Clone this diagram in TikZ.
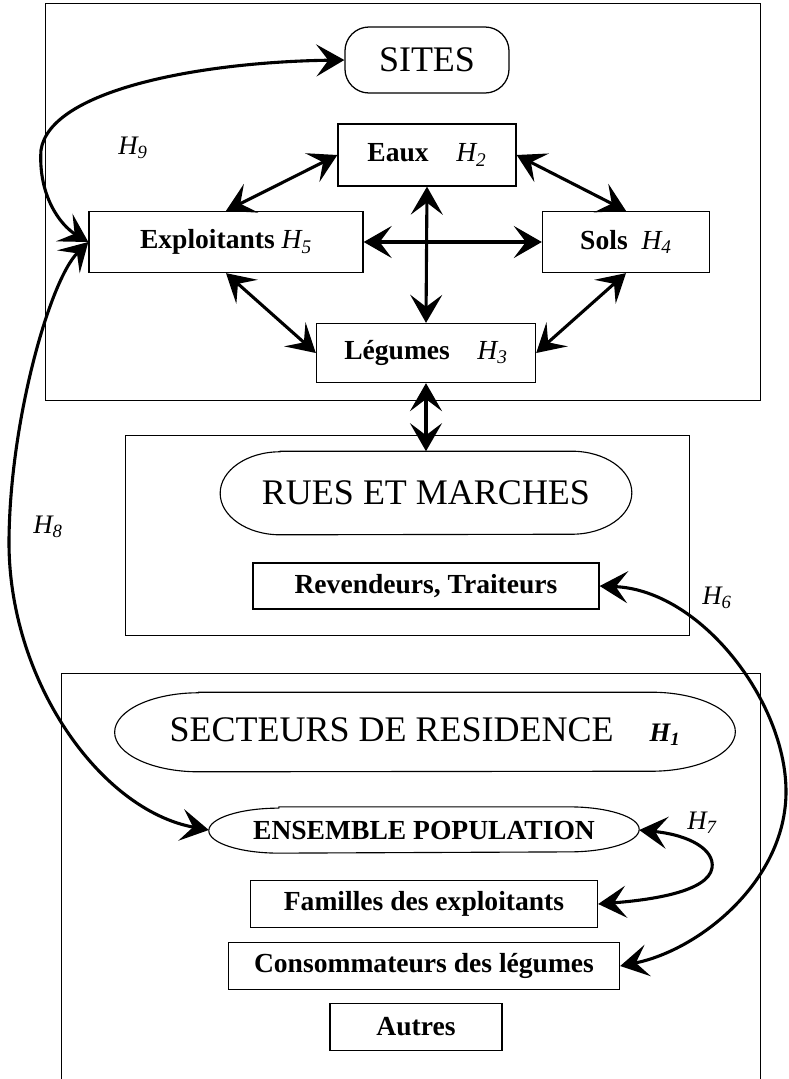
\documentclass[tikz,border=0pt]{standalone}
\usepackage{fontspec}
\setmainfont{Liberation Serif}
\usetikzlibrary{arrows.meta}

\newcommand{\hsub}[1]{{\normalfont\itshape H\textsubscript{#1}}}
% oval with elliptic ends drawn round a node
\newcommand{\capsule}[3]{%
  \draw[line width=0.8pt] ([xshift=#2]#1.north west) -- ([xshift=-#2]#1.north east)
    arc[start angle=90, end angle=-90, x radius=#2, y radius=#3]
    -- ([xshift=#2]#1.south west)
    arc[start angle=270, end angle=90, x radius=#2, y radius=#3] -- cycle;}

\begin{document}
\begin{tikzpicture}[x=0.025cm, y=-0.025cm,
    frame/.style={draw, line width=0.6pt},
    box/.style={draw, line width=0.9pt, inner sep=2pt, font=\fontsize{19.6}{23}\selectfont\bfseries},
    big/.style={inner sep=2pt, font=\fontsize{25.6}{30}\selectfont},
    hlab/.style={font=\fontsize{19}{22}\selectfont\itshape},
    dbl/.style={{Stealth[length=7mm, width=8mm, inset=3mm]}-{Stealth[length=7mm, width=8mm, inset=3mm]}, line width=2.2pt}
]
    \useasboundingbox (0,0) rectangle (789,1079);

    % frames
    \draw[frame] (45,3) rectangle (760,400);
    \draw[frame] (125,435) rectangle (689,635);
    \draw[frame] (61,1079) -- (61,673) -- (760,673) -- (760,1079);

    % sites
    \node[big, draw, line width=0.9pt, rounded corners=0.6cm, minimum width=4.1cm, minimum height=1.65cm] (sites) at (427,60) {SITES};
    \node[box, minimum width=4.45cm, minimum height=1.55cm] (eaux) at (427,155) {Eaux\quad\hsub{2}};
    \node[box, minimum width=6.85cm, minimum height=1.525cm] (expl) at (226,242) {Exploitants \hsub{5}};
    \node[box, minimum width=4.175cm, minimum height=1.525cm] (sols) at (626,242) {Sols\ \ \hsub{4}};
    \node[box, minimum width=5.475cm, minimum height=1.475cm] (leg) at (426,353) {Légumes\quad\hsub{3}};

    % rues et marches
    \node[big, minimum width=10.275cm, minimum height=2.075cm] (rues) at (426,493) {RUES ET MARCHES};
    \capsule{rues}{1.5cm}{1.0375cm}
    \node[box, minimum width=8.65cm, minimum height=1.15cm] (rev) at (426,586) {Revendeurs, Traiteurs};

    % secteurs de residence
    \node[big, minimum width=15.5cm, minimum height=1.975cm] (sect) at (425,732) {SECTEURS DE RESIDENCE\quad{\fontsize{19}{22}\selectfont\bfseries\itshape H\textsubscript{1}}};
    \capsule{sect}{2.1cm}{0.9875cm}
    \node[box, draw=none, minimum width=10.725cm, minimum height=1.125cm] (ens) at (424,830) {ENSEMBLE POPULATION};
    \capsule{ens}{1.75cm}{0.5625cm}
    \node[box, minimum width=8.675cm, minimum height=1.175cm] (fam) at (424,904) {Familles des exploitants};
    \node[box, minimum width=9.775cm, minimum height=1.175cm] (cons) at (424,966) {Consommateurs des légumes};
    \node[box, minimum width=4.3cm, minimum height=1.175cm] (aut) at (416,1027) {Autres};

    % labels
    \node[hlab] (h9) at (133,148) {H\textsubscript{9}};
    \node[hlab] (h8) at (48,527) {H\textsubscript{8}};
    \node[hlab] (h6) at (717,598) {H\textsubscript{6}};
    \node[hlab] (h7) at (702,823) {H\textsubscript{7}};

    % links
    \draw[dbl] (eaux.west) -- (expl.north);
    \draw[dbl] (eaux.east) -- (sols.north);
    \draw[dbl] (expl.south) -- (leg.west);
    \draw[dbl] (sols.south) -- (leg.east);
    \draw[dbl] (expl.east) -- (sols.west);
    \draw[dbl] (eaux.south) -- (leg.north);
    \draw[dbl] (leg.south) -- (rues.north);

    \draw[dbl] (sites.west) .. controls (200,62) and (50,90) .. (41,150) .. controls (38,195) and (60,225) .. (expl.west);
    \draw[dbl] (expl.west) .. controls (50,280) and (10,420) .. (9,540) .. controls (8,680) and (100,810) .. (ens.west);
    \draw[dbl] (rev.east) .. controls (700,590) and (785,700) .. (786,790) .. controls (787,880) and (700,950) .. (cons.east);
    \draw[dbl] (ens.east) .. controls (690,835) and (715,850) .. (712,868) .. controls (708,892) and (650,900) .. (fam.east);
\end{tikzpicture}
\end{document}
